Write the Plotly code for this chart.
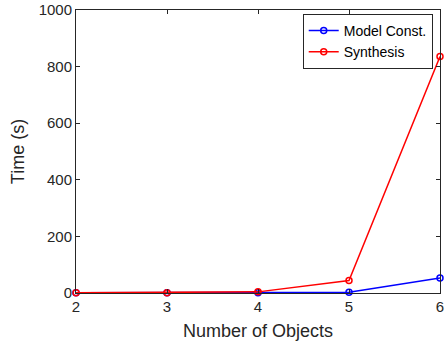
import plotly.graph_objects as go

num_objects = [2, 3, 4, 5, 6]
model_const = [0.5, 0.6, 1.0, 3.0, 53]
synthesis = [0.6, 1.0, 4.0, 44, 836]

fig = go.Figure()
fig.add_trace(go.Scatter(x=num_objects, y=model_const, mode="lines+markers", name="Model Const.",
                         line=dict(color="#0000ff", width=1.5),
                         marker=dict(symbol="circle-open", size=6, color="#0000ff", line=dict(width=1.5)),
                         cliponaxis=False))
fig.add_trace(go.Scatter(x=num_objects, y=synthesis, mode="lines+markers", name="Synthesis",
                         line=dict(color="#ff0000", width=1.5),
                         marker=dict(symbol="circle-open", size=6, color="#ff0000", line=dict(width=1.5)),
                         cliponaxis=False))

axis_common = dict(showgrid=False, zeroline=False, showline=True, linecolor="#262626", linewidth=1,
                   mirror="ticks", ticks="inside", ticklen=4, tickcolor="#262626", automargin=False,
                   ticklabeloverflow="allow",
                   tickfont=dict(family="Liberation Sans, Arial, sans-serif", size=15, color="#262626"))

fig.update_layout(
    width=447, height=343,
    margin=dict(l=76, r=7, t=10, b=50),
    paper_bgcolor="white", plot_bgcolor="white",
    font=dict(family="Liberation Sans, Arial, sans-serif", color="#262626"),
    xaxis=dict(range=[2, 6], tickvals=[2, 3, 4, 5, 6],
               title=dict(text="Number of Objects", font=dict(size=18), standoff=10), **axis_common),
    yaxis=dict(range=[0, 1000], tickvals=[0, 200, 400, 600, 800, 1000],
               title=dict(text="Time (s)", font=dict(size=18), standoff=9), **axis_common),
    legend=dict(x=0.98, y=0.986, xanchor="right", yanchor="top", bgcolor="white",
                bordercolor="#262626", borderwidth=1, font=dict(size=14, color="black"),
                tracegroupgap=0, itemwidth=30),
    showlegend=True,
)

fig.write_html("out.html", config={"displayModeBar": False},
               post_script="document.body.style.margin='0';")
